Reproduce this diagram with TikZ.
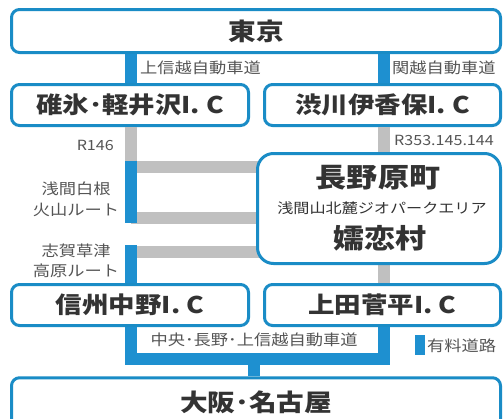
\documentclass[tikz,border=0pt]{standalone}
\usepackage{fontspec}
\setmainfont[FakeStretch=1.15]{Noto Sans CJK JP}
\definecolor{boxblue}{HTML}{1A8CC6}
\definecolor{barblue}{HTML}{1E90D0}
\definecolor{bargrey}{HTML}{C0C0C0}
\definecolor{txtdark}{HTML}{333333}
\definecolor{txtgrey}{HTML}{555555}
\tikzset{
  box/.style={draw=boxblue, line width=3pt, fill=white, rounded corners=8pt, inner sep=0pt, text=txtdark, font=\bfseries\fontsize{23}{25}\selectfont},
  bigbox/.style={box, rounded corners=16pt},
  bluebar/.style={draw=barblue, line width=12pt},
  greybar/.style={draw=bargrey, line width=12pt},
  small/.style={inner sep=0pt, text=txtgrey, font=\fontsize{15}{20}\selectfont},
  smallr/.style={small, anchor=east},
  smalll/.style={small, anchor=west},
  bigtxt/.style={inner sep=0pt, text=txtdark, font=\bfseries\fontsize{27}{30}\selectfont},
}
\begin{document}
\begin{tikzpicture}[x=1pt,y=-1pt]
\useasboundingbox (0,0) rectangle (503,418);
\clip (0,0) rectangle (503,418);
\fill[white] (0,0) rectangle (503,418);
% coordinates for bar axes
\coordinate (L) at (131,0);
\coordinate (R) at (384,0);
\coordinate (M) at (254,0);
\coordinate (g1) at (131,166.5);
\coordinate (g2) at (131,217.5);
\coordinate (g3) at (131,252);
\coordinate (gap1) at (131,223);
\coordinate (gap2) at (131,245);
% boxes
\node[box, minimum width=489pt, minimum height=43pt, font=\bfseries\fontsize{24}{26}\selectfont] (tokyo) at (256,31) {東京};
\node[box, minimum width=237pt, minimum height=41pt] (karuizawa) at (130,105) {碓氷･軽井沢I. C};
\node[box, minimum width=236pt, minimum height=41pt] (shibukawa) at (382.5,105) {渋川伊香保I. C};
\node[box, minimum width=237pt, minimum height=41pt] (nakano) at (130,305) {信州中野I. C};
\node[box, minimum width=236pt, minimum height=41pt] (ueda) at (382.5,305) {上田菅平I. C};
\node[box, minimum width=489pt, minimum height=62pt] (osaka) at (256,408.75) {};
\node[inner sep=0pt, text=txtdark, font=\bfseries\fontsize{24}{26}\selectfont] (osakatxt) at (256,402) {大阪･名古屋};
% top connectors
\draw[bluebar] (L |- tokyo.south) -- (L |- karuizawa.north);
\draw[bluebar] (R |- tokyo.south) -- (R |- shibukawa.north);
% grey routes
\draw[greybar] (L |- karuizawa.south) -- ([yshift=6pt]g1);
\draw[greybar] ([xshift=-6pt]g1) -- (270,166.5);
\draw[greybar] (g2) -- (270,217.5);
\draw[greybar] (g3) -- (270,252);
\draw[greybar] (R |- shibukawa.south) -- (R |- ueda.north);
% blue toll segments on the left
\draw[bluebar] ([yshift=6pt]g1) -- (gap1);
\draw[bluebar] (gap2) -- (L |- nakano.north);
% centre box
\node[bigbox, minimum width=243pt, minimum height=110pt] (naganohara) at (379,208.5) {};
\node[bigtxt] (t1) at (378,178) {長野原町};
\node[small, text=txtdark, font=\fontsize{14}{16}\selectfont] (t2) at (382,208) {浅間山北麓ジオパークエリア};
\node[bigtxt] (t3) at (380,238) {嬬恋村};
% bottom connectors
\coordinate (bl) at (131,358.5);
\coordinate (br) at (384,358.5);
\draw[bluebar] (L |- nakano.south) -- ([yshift=6pt]bl);
\draw[bluebar] (R |- ueda.south) -- ([yshift=6pt]br);
\draw[bluebar] ([xshift=-6pt]bl) -- ([xshift=6pt]br);
\draw[bluebar] (M |- br) -- (M |- osaka.north);
% labels
\node[smalll] (lab1) at (140,68) {上信越自動車道};
\node[smalll] (lab2) at (392,68) {関越自動車道};
\node[smallr, font=\fontsize{14}{16}\selectfont] (r146) at (114,145) {R146};
\node[smalll, font=\fontsize{14}{16}\selectfont] (r353) at (394,140) {R353.145.144};
\node[small, align=center, font=\fontsize{15}{21}\selectfont] (asama) at (76,199) {浅間白根\\火山ルート};
\node[small, align=center, font=\fontsize{15}{20}\selectfont] (shiga) at (76,261) {志賀草津\\高原ルート};
\node[small] (chuo) at (254,340) {中央･長野･上信越自動車道};
\fill[barblue] (415,335) rectangle (425,355);
\node[smalll] (legend) at (427,346) {有料道路};
\end{tikzpicture}
\end{document}
